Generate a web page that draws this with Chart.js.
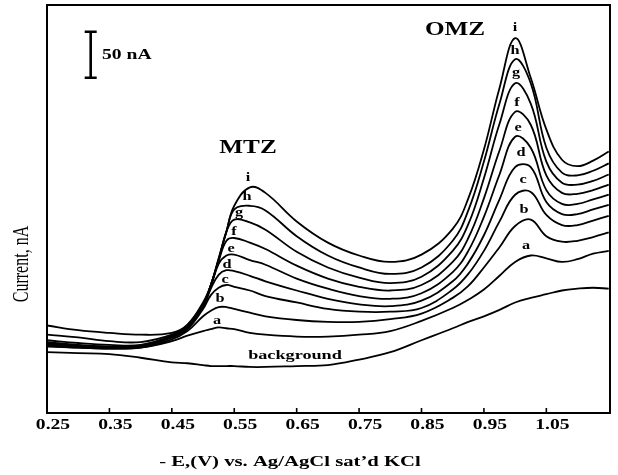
<!DOCTYPE html>
<html>
<head>
<meta charset="utf-8">
<title>DPV MTZ / OMZ</title>
<script src="https://cdn.jsdelivr.net/npm/chart.js@4/dist/chart.umd.min.js"></script>
<style>
  html, body { margin: 0; padding: 0; background: #fff; }
  #chart { display: block; }
</style>
</head>
<body>
<canvas id="chart" width="618" height="475"></canvas>
<script>
// potential, -E (V)
const potentials = [0.25, 0.30, 0.35, 0.40, 0.45, 0.475, 0.50, 0.5125, 0.525, 0.5375, 0.55, 0.575, 0.60, 0.65, 0.70, 0.75, 0.80, 0.85, 0.90, 0.925, 0.95, 0.975, 1.00, 1.025, 1.05, 1.075, 1.10, 1.125, 1.15];

// current, nA
const background = [66, 65, 64, 60, 55, 54, 52, 51, 51, 51, 51, 50, 50, 51, 52, 58, 66, 79, 92, 99, 105, 112, 120, 125, 129, 133, 135, 136, 135];
const curveA = [72, 71, 70, 71, 78, 84, 89, 91, 93, 92, 91, 87, 85, 83, 83, 85, 89, 100, 114, 123, 134, 149, 164, 171, 168, 164, 167, 173, 176];
const curveB = [73, 71, 70, 71, 80, 89, 105, 111, 115, 115, 113, 109, 105, 101, 99, 99, 102, 108, 125, 138, 158, 180, 203, 210, 192, 186, 187, 191, 196];
const curveC = [74, 72, 71, 72, 82, 91, 113, 128, 136, 139, 137, 133, 127, 120, 113, 110, 110, 114, 134, 151, 176, 208, 237, 240, 215, 204, 204, 209, 214];
const curveD = [75, 72, 71, 72, 82, 92, 115, 135, 150, 155, 154, 149, 143, 133, 124, 118, 116, 122, 143, 163, 193, 232, 267, 267, 229, 216, 216, 221, 226];
const curveE = [76, 73, 72, 72, 83, 93, 116, 137, 162, 171, 172, 166, 161, 146, 135, 127, 124, 130, 153, 176, 213, 259, 300, 288, 242, 227, 227, 232, 237];
const curveF = [77, 74, 72, 73, 83, 93, 117, 139, 165, 187, 190, 185, 178, 160, 146, 137, 133, 139, 164, 190, 233, 285, 327, 313, 258, 239, 238, 242, 248];
const curveG = [79, 76, 74, 74, 84, 95, 117, 139, 166, 197, 210, 207, 199, 175, 158, 147, 141, 148, 176, 205, 255, 314, 358, 336, 273, 250, 248, 252, 259];
const curveH = [85, 82, 78, 77, 85, 95, 118, 139, 167, 197, 221, 225, 220, 192, 171, 158, 151, 158, 187, 220, 273, 336, 384, 358, 288, 261, 258, 263, 271];
const curveI = [95, 90, 87, 85, 87, 96, 120, 139, 168, 197, 225, 245, 239, 208, 185, 171, 164, 172, 200, 233, 286, 353, 407, 364, 308, 275, 268, 274, 284];

const xTicks = [0.25, 0.35, 0.45, 0.55, 0.65, 0.75, 0.85, 0.95, 1.05];
const curveNames = ["background", "a", "b", "c", "d", "e", "f", "g", "h", "i"];
const curveValues = [background, curveA, curveB, curveC, curveD, curveE, curveF, curveG, curveH, curveI];

// text annotations (pixel centres)
const mtzLetters = [["a", 217, 321], ["b", 220, 299], ["c", 225, 280], ["d", 227, 265], ["e", 231, 249], ["f", 234, 232], ["g", 239, 213], ["h", 247, 197], ["i", 248, 178]];
const omzLetters = [["a", 526, 246], ["b", 524, 210], ["c", 523, 180], ["d", 521, 153], ["e", 518, 128], ["f", 517, 103], ["g", 516, 73], ["h", 515, 51], ["i", 515, 28]];

const SERIF = '"Liberation Serif", "Times New Roman", serif';
const SX = 1.4;

const stretchText = (ctx, text, x, y, font, sx, align) => {
  ctx.save();
  ctx.font = font;
  ctx.translate(x, y);
  ctx.scale(sx, 1);
  ctx.textAlign = align || "center";
  ctx.textBaseline = "middle";
  ctx.fillText(text, 0, 0);
  ctx.restore();
}

const datasets = curveValues.map((vals, k) => {
  return {
    label: curveNames[k],
    data: potentials.map((p, j) => ({ x: p, y: vals[j] })),
    borderColor: "#000",
    borderWidth: 1.8,
    pointRadius: 0,
    tension: 0.4,
    fill: false
  };
});

const decorations = {
  id: "decorations",
  afterDraw(chart) {
    const ctx = chart.ctx;
    const area = chart.chartArea;
    const xs = chart.scales.x;
    const ys = chart.scales.y;
    ctx.save();
    ctx.fillStyle = "#000";
    ctx.strokeStyle = "#000";

    // frame
    ctx.lineWidth = 2;
    ctx.strokeRect(area.left, area.top, area.right - area.left, area.bottom - area.top);

    // inward ticks + labels
    ctx.lineWidth = 1.6;
    for (const t of xTicks) {
      const px = xs.getPixelForValue(t);
      ctx.beginPath();
      ctx.moveTo(px, area.bottom);
      ctx.lineTo(px, area.bottom - 5);
      ctx.stroke();
      stretchText(ctx, t.toFixed(2), px + 6, area.bottom + 12, "bold 14px " + SERIF, SX);
    }

    // axis titles
    stretchText(ctx, "- E,(V) vs. Ag/AgCl sat\u2019d KCl", 290, 462, "bold 15px " + SERIF, 1.38);
    ctx.save();
    ctx.translate(22, 264);
    ctx.rotate(-Math.PI / 2);
    ctx.scale(1, 1.4);
    ctx.font = "16px " + SERIF;
    ctx.textAlign = "center";
    ctx.textBaseline = "middle";
    ctx.fillText("Current, nA", 0, 0);
    ctx.restore();

    // 50 nA scale bar
    const barX = xs.getPixelForValue(0.32);
    const barTop = ys.getPixelForValue(414);
    const barBot = ys.getPixelForValue(364);
    ctx.lineWidth = 2.6;
    ctx.beginPath();
    ctx.moveTo(barX, barTop);
    ctx.lineTo(barX, barBot);
    ctx.moveTo(barX - 6, barTop);
    ctx.lineTo(barX + 6, barTop);
    ctx.moveTo(barX - 6, barBot);
    ctx.lineTo(barX + 6, barBot);
    ctx.stroke();
    stretchText(ctx, "50 nA", 102, (barTop + barBot) / 2 + 1, "bold 14px " + SERIF, SX, "left");

    // peak names
    stretchText(ctx, "MTZ", 248, 148, "bold 18px " + SERIF, SX);
    stretchText(ctx, "OMZ", 455, 30, "bold 18px " + SERIF, SX);
    stretchText(ctx, "background", 295, 356, "bold 13px " + SERIF, SX);

    for (const [s, x, y] of mtzLetters.concat(omzLetters)) {
      stretchText(ctx, s, x, y, "bold 13px " + SERIF, 1.25);
    }
    ctx.restore();
  }
};

const chart = new Chart(document.getElementById("chart"), {
  type: "line",
  data: { datasets },
  options: {
    responsive: false,
    animation: false,
    devicePixelRatio: 1,
    layout: { padding: { left: 47, top: 5, right: 8, bottom: 62 } },
    scales: {
      x: { type: "linear", min: 0.25, max: 1.152, display: false },
      y: { min: 0, max: 443, display: false }
    },
    plugins: {
      legend: { display: false },
      tooltip: { enabled: false }
    }
  },
  plugins: [decorations]
});
</script>
</body>
</html>
